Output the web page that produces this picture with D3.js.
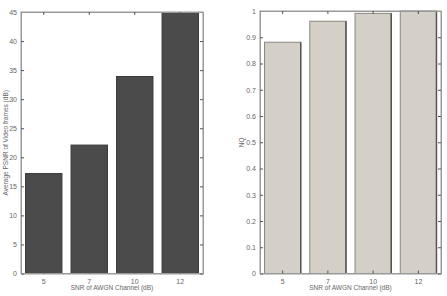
<!DOCTYPE html>
<html><head><meta charset="utf-8">
<script src="https://cdn.jsdelivr.net/npm/d3@7"></script>
<style>body{margin:0;background:#fff}svg{display:block;font-family:"Liberation Sans",Arial,sans-serif}</style>
</head><body><svg id="c" width="447" height="296"></svg>
<script>
const categories = ["5","7","10","12"];
const psnrValues = [17.2, 22.1, 33.9, 44.8];
const nqValues = [0.881, 0.961, 0.991, 1.0];
const psnrTicks = [0,5,10,15,20,25,30,35,40,45];
const nqTicks = [0,0.1,0.2,0.3,0.4,0.5,0.6,0.7,0.8,0.9,1];

const svg = d3.select("#c");

function panel(opt){
  const g = svg.append("g");
  const x = d3.scaleBand().domain(categories).range([opt.x0, opt.x1]).paddingInner(0.2).paddingOuter(0.1);
  const y = d3.scaleLinear().domain(opt.domain).range([opt.y1, opt.y0]);
  // bars
  g.selectAll("rect.bar").data(opt.values).join("rect")
    .attr("x",(d,i)=>x(categories[i])).attr("width",x.bandwidth())
    .attr("y",d=>y(d)).attr("height",d=>y(opt.domain[0])-y(d))
    .attr("fill",opt.fill).attr("stroke",opt.stroke).attr("stroke-width",1);
  if(opt.edge){
    g.selectAll("line.edge").data(opt.values).join("line")
      .attr("x1",(d,i)=>x(categories[i])+x.bandwidth()).attr("x2",(d,i)=>x(categories[i])+x.bandwidth())
      .attr("y1",d=>y(d)).attr("y2",y(opt.domain[0]))
      .attr("stroke",opt.edge).attr("stroke-width",1.5);
  }
  // box
  g.append("rect").attr("x",opt.x0).attr("y",opt.y0).attr("width",opt.x1-opt.x0).attr("height",opt.y1-opt.y0)
    .attr("fill","none").attr("stroke","#999").attr("stroke-width",1);
  // axes
  const ya = g.append("g").attr("transform",`translate(${opt.x0},0)`)
    .call(d3.axisLeft(y).tickValues(opt.ticks).tickSize(-3).tickPadding(4).tickFormat(opt.fmt));
  const yr = g.append("g").attr("transform",`translate(${opt.x1},0)`)
    .call(d3.axisRight(y).tickValues(opt.ticks).tickSize(-3).tickFormat(""));
  const xa = g.append("g").attr("transform",`translate(0,${opt.y1})`)
    .call(d3.axisBottom(x).tickSize(-3).tickPadding(6));
  const xt = g.append("g").attr("transform",`translate(0,${opt.y0})`)
    .call(d3.axisTop(x).tickSize(-3).tickFormat(""));
  [ya,yr,xa,xt].forEach(a=>{
    a.select(".domain").attr("stroke","#999");
    a.selectAll(".tick line").attr("stroke","#555");
    a.selectAll("text").attr("fill","#666").attr("font-size","7px");
  });
  g.append("text").attr("x",(opt.x0+opt.x1)/2).attr("y",290).attr("text-anchor","middle")
    .attr("font-size","6.5px").attr("fill","#666").text(opt.xlabel);
  g.append("text").attr("transform",`translate(${opt.ylx},${(opt.y0+opt.y1)/2}) rotate(-90)`)
    .attr("text-anchor","middle").attr("font-size","6.5px").attr("fill","#666").text(opt.ylabel);
}

panel({x0:21,x1:203,y0:12,y1:273.5,domain:[0,45],values:psnrValues,ticks:psnrTicks,
  fmt:d3.format("d"),fill:"#4b4b4b",stroke:"#3a3a3a",edge:null,
  xlabel:"SNR of AWGN Channel (dB)",ylabel:"Average PSNR of Video frames (dB)",ylx:8});
panel({x0:260,x1:441,y0:11,y1:273.5,domain:[0,1],values:nqValues,ticks:nqTicks,
  fmt:d=>d===0?"0":d===1?"1":d3.format(".1f")(d),fill:"#d4d0c8",stroke:"#8a8780",edge:"#555",
  xlabel:"SNR of AWGN Channel (dB)",ylabel:"NQ",ylx:244});
</script></body></html>
